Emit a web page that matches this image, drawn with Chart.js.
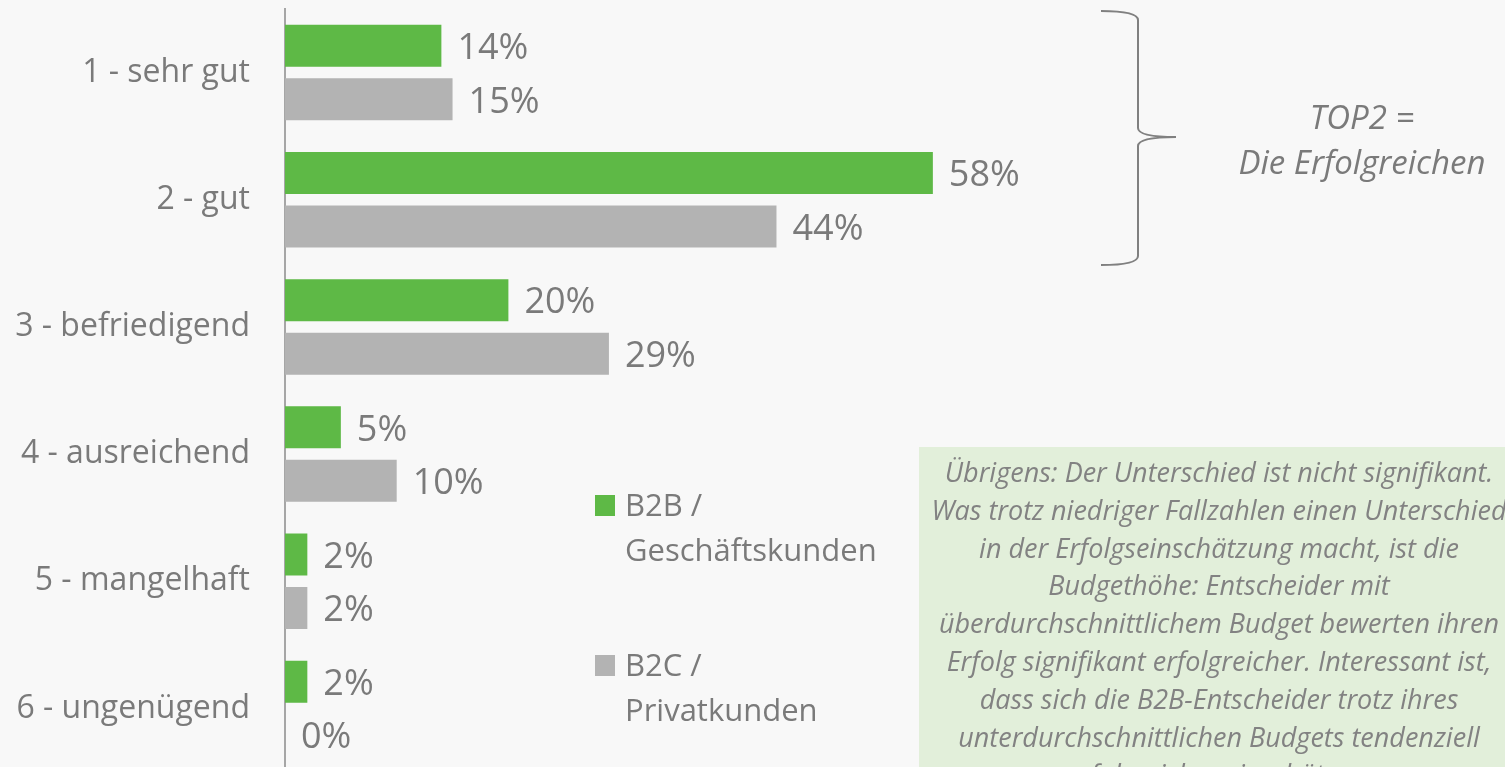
<!DOCTYPE html>
<html>
<head>
<meta charset="utf-8">
<script src="https://cdn.jsdelivr.net/npm/chart.js@4"></script>
<style>
  html, body { margin: 0; padding: 0; background: #f8f8f8; overflow: hidden; width: 1505px; height: 767px; }
  #c { position: absolute; left: 0; top: 0; }
  .ov { position: absolute; font-family: "Open Sans", sans-serif; color: #7a7a7a; white-space: nowrap; }
  .sq { position: absolute; width: 20px; height: 21px; }
  #note { position: absolute; left: 919px; top: 447px; width: 600px; height: 340px; background: #e2efda;
          font-family: "Open Sans", sans-serif; font-style: italic; font-size: 27px; line-height: 37.8px;
          color: #828282; text-align: center; white-space: nowrap; padding-top: 6px; box-sizing: border-box; }
  #top2 { position: absolute; left: 1212px; top: 94px; width: 300px; text-align: center; font-style: italic;
          font-size: 33px; line-height: 45px; }
</style>
</head>
<body>
<canvas id="c" width="1505" height="780"></canvas>

<svg style="position:absolute;left:0;top:0" width="1505" height="767">
  <path d="M1101,11 Q1138,11 1138,20 L1138,128 Q1138,137 1176,137 Q1138,137 1138,146 L1138,256 Q1138,265 1101,265"
        fill="none" stroke="#808080" stroke-width="2"/>
</svg>
<div id="top2" class="ov">TOP2 =<br>Die Erfolgreichen</div>

<div class="sq" style="left:595px;top:495px;background:#5eb946"></div>
<div class="ov" style="left:625px;top:482px;font-size:31px;line-height:45px">B2B /<br>Geschäftskunden</div>
<div class="sq" style="left:595px;top:655px;background:#b3b3b3"></div>
<div class="ov" style="left:625px;top:642px;font-size:31px;line-height:45px">B2C /<br>Privatkunden</div>

<div id="note">Übrigens: Der Unterschied ist nicht signifikant.<br>Was trotz niedriger Fallzahlen einen Unterschied<br>in der Erfolgseinschätzung macht, ist die<br>Budgethöhe: Entscheider mit<br>überdurchschnittlichem Budget bewerten ihren<br>Erfolg signifikant erfolgreicher. Interessant ist,<br>dass sich die B2B-Entscheider trotz ihres<br>unterdurchschnittlichen Budgets tendenziell<br>erfolgreicher einschätzen.</div>

<script>
const categories = ["1 - sehr gut", "2 - gut", "3 - befriedigend", "4 - ausreichend", "5 - mangelhaft", "6 - ungenügend"];
const seriesNames = ["B2B / Geschäftskunden", "B2C / Privatkunden"];
const b2bValues = [14, 58, 20, 5, 2, 2];
const b2cValues = [15, 44, 29, 10, 2, 0];

const labelPlugin = {
  id: 'barLabels',
  afterDatasetsDraw(chart) {
    const ctx = chart.ctx;
    ctx.save();
    ctx.font = '36px "Open Sans", sans-serif';
    ctx.fillStyle = '#7a7a7a';
    ctx.textAlign = 'left';
    ctx.textBaseline = 'middle';
    chart.data.datasets.forEach((ds, di) => {
      const meta = chart.getDatasetMeta(di);
      meta.data.forEach((el, i) => {
        ctx.fillText(ds.data[i] + '%', el.x + 16, el.y + 3);
      });
    });
    ctx.restore();
  }
};

new Chart(document.getElementById('c'), {
  type: 'bar',
  data: {
    labels: categories,
    datasets: [
      { label: seriesNames[0], data: b2bValues, backgroundColor: '#5eb946', categoryPercentage: 0.841, barPercentage: 0.785 },
      { label: seriesNames[1], data: b2cValues, backgroundColor: '#b3b3b3', categoryPercentage: 0.841, barPercentage: 0.785 }
    ]
  },
  options: {
    indexAxis: 'y',
    responsive: false,
    animation: false,
    layout: { padding: { top: 9, bottom: 8, right: 103, left: 0 } },
    plugins: { legend: { display: false }, tooltip: { enabled: false } },
    scales: {
      x: { display: false, min: 0, max: 100 },
      y: {
        afterFit(scale) { scale.width = 285; scale.paddingTop = 0; scale.paddingBottom = 0; },
        grid: { display: false, drawTicks: false },
        border: { display: true, color: '#a6a6a6', width: 2 },
        ticks: { color: '#7a7a7a', padding: 35, font: { family: '"Open Sans", sans-serif', size: 32 } }
      }
    }
  },
  plugins: [labelPlugin]
});
</script>
</body>
</html>
